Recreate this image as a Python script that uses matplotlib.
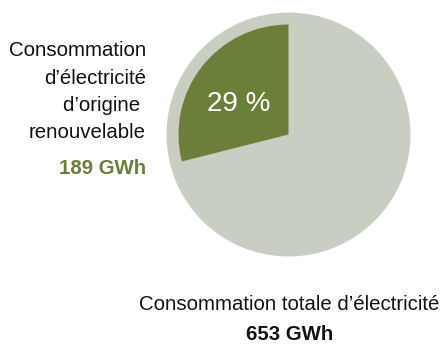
import matplotlib
matplotlib.use("Agg")
import matplotlib.pyplot as plt

# data
renouvelable = 189
total = 653
part = [renouvelable, total - renouvelable]
pct_label = "29 %"

left_lines = ["Consommation", "d\u2019\u00e9lectricit\u00e9", "d\u2019origine ", "renouvelable"]
left_value = "189 GWh"
bottom_line = "Consommation totale d\u2019\u00e9lectricit\u00e9"
bottom_value = "653 GWh"

grey = "#c9cec2"
green = "#6a7f3a"
fam = ["Liberation Sans", "DejaVu Sans"]

H = 347
fig = plt.figure(figsize=(4.41, 3.47), dpi=100)
ax = fig.add_axes([0, 0, 1, 1])

cx, cy = 288.5, H - 134.5
# full grey disc, then the smaller green wedge on top
ax.pie([total], colors=[grey], radius=122, center=(cx, cy),
       wedgeprops=dict(linewidth=0), frame=True)
w, _ = ax.pie(part, colors=[green, grey], radius=110, center=(cx, cy),
              startangle=90, counterclock=True, wedgeprops=dict(linewidth=0), frame=True)
w[1].set_visible(False)
ax.set_xlim(0, 441)
ax.set_ylim(0, H)
ax.set_aspect("equal")
ax.axis("off")

ax.text(239, H - 104, pct_label, color="white", fontsize=20, ha="center", va="center",
        family=fam)

ys = [50, 78, 105, 132]
for s, y in zip(left_lines, ys):
    ax.text(146, H - y, s, fontsize=14.7, ha="right", va="center", family=fam, color="#111111")
ax.text(146, H - 168, left_value, fontsize=14.7, ha="right", va="center", family=fam,
        fontweight="bold", color=green)

ax.text(289, H - 305, bottom_line, fontsize=14.7, ha="center", va="center", family=fam, color="#111111")
ax.text(290, H - 335, bottom_value, fontsize=14.7, ha="center", va="center", family=fam,
        fontweight="bold", color="#111111")

fig.savefig("out.png", dpi=100)
